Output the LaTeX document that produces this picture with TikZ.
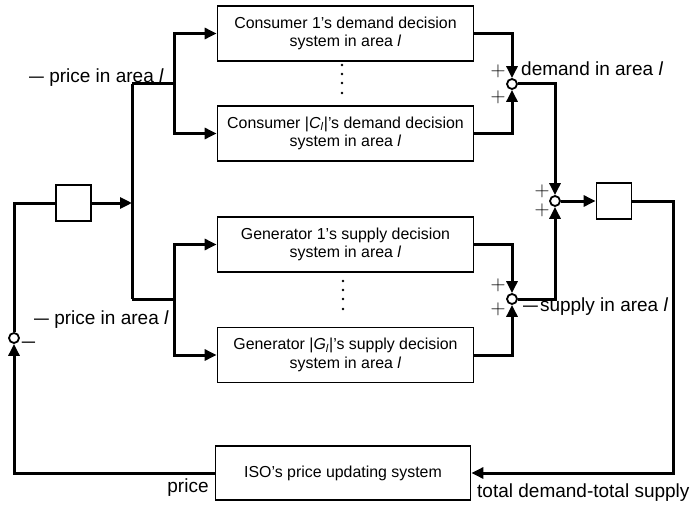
\documentclass[tikz,border=0pt]{standalone}
\usepackage{fontspec}
\setmainfont{Liberation Sans}
\usetikzlibrary{arrows.meta}
\newcommand{\shortdash}{\scalebox{0.78}[1]{—}}
\tikzset{
  blk/.style={draw, line width=1.8pt, minimum width=256pt, minimum height=55pt, inner sep=0pt, align=center, font=\fontsize{15.9pt}{18.5pt}\selectfont},
  sq/.style={draw, line width=1.8pt, minimum width=35pt, minimum height=36pt, inner sep=0pt},
  sumc/.style={circle, draw, fill=white, line width=1.8pt, minimum size=10pt, inner sep=0pt},
  conn/.style={line width=3pt},
  arr/.style={conn, -{Triangle[length=12pt,width=11pt]}},
  lbl/.style={font=\fontsize{19pt}{22pt}\selectfont, inner sep=0pt},
  sgn/.style={font=\fontsize{20pt}{22pt}\selectfont, inner sep=0pt},
  dotc/.style={fill=black}
}
\begin{document}
\begin{tikzpicture}[x=1pt,y=-1pt]
\useasboundingbox (0,0) rectangle (695,505);
% blocks
\node[blk] (c1) at (345.5,33.5) {Consumer 1’s demand decision\\system in area \textit{l}};
\node[blk] (cC) at (345.5,133.5) {Consumer |\textit{C}\textsubscript{\textit{l}}|’s demand decision\\system in area \textit{l}};
\node[blk] (g1) at (345.5,244.5) {Generator 1’s supply decision\\system in area \textit{l}};
\node[blk] (gG) at (345.5,355) {Generator |\textit{G}\textsubscript{\textit{l}}|’s supply decision\\system in area \textit{l}};
\node[blk, minimum width=255pt, minimum height=54pt] (iso) at (343,473) {ISO’s price updating system};
\node[sq] (sbL) at (73.5,203) {};
\node[sq] (sbR) at (614,201) {};
% summing junctions
\node[sumc] (s0) at (14,338) {};
\node[sumc] (s1) at (512,84) {};
\node[sumc] (s2) at (555,201) {};
\node[sumc] (s3) at (512,299) {};
% junction coordinates
\coordinate (jL) at (132,203);
\coordinate (tT) at (132,84);
\coordinate (tB) at (132,299);
\coordinate (bT) at (174,84);
\coordinate (bB) at (174,299);
\coordinate (rc) at (673,201);
% connectors
\draw[arr] (iso.west) -| (s0);
\draw[conn] (s0) |- (sbL.west);
\draw[arr] (sbL.east) -- (jL);
\draw[conn] (tT) -- (tB);
\draw[conn] (tT) -- (bT);
\draw[conn] (tB) -- (bB);
\draw[arr] (bT) |- (c1.west);
\draw[arr] (bT) |- (cC.west);
\draw[arr] (bB) |- (g1.west);
\draw[arr] (bB) |- (gG.west);
\draw[arr] (c1.east) -| (s1);
\draw[arr] (cC.east) -| (s1);
\draw[arr] (g1.east) -| (s3);
\draw[arr] (gG.east) -| (s3);
\draw[arr] (s1) -| (s2);
\draw[arr] (s3) -| (s2);
\draw[arr] (s2) -- (sbR.west);
\draw[arr] (sbR.east) -- (rc) |- (iso.east);
% dots
\foreach \yy in {65,74,83,93} \fill[dotc] (342,\yy) circle (1.4pt);
\foreach \yy in {281,290,299,309} \fill[dotc] (343,\yy) circle (1.4pt);
% labels
\node[lbl, anchor=west] (lp1) at (29,78) {\shortdash\ price in area \textit{l}};
\node[lbl, anchor=west] (lp2) at (34,320) {\shortdash\ price in area \textit{l}};
\node[lbl, anchor=west] (ld) at (521,69) {demand in area \textit{l}};
\node[lbl, anchor=west] (ls) at (523,307) {\shortdash\kern2pt supply in area \textit{l}};
\node[lbl] (lm) at (28.5,345) {\scalebox{0.7}[1]{—}};
\node[lbl] (lpr) at (188,488) {price};
\node[lbl, anchor=west] (ltot) at (477,493) {total demand-total supply};
% signs
\node[sgn] (p1) at (498,71) {$+$};
\node[sgn] (p2) at (498,97) {$+$};
\node[sgn] (p3) at (542,191) {$+$};
\node[sgn] (p4) at (542,210) {$+$};
\node[sgn] (p5) at (498,285) {$+$};
\node[sgn] (p6) at (498,309) {$+$};
\end{tikzpicture}
\end{document}
